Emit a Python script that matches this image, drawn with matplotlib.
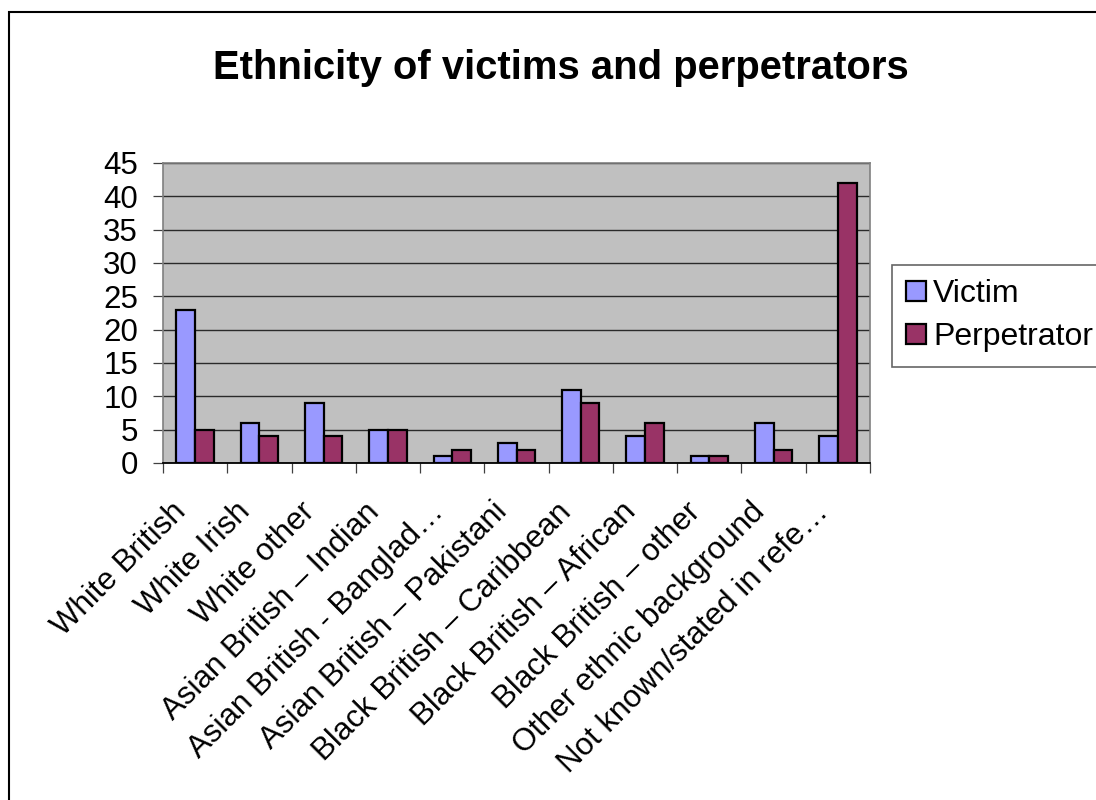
import matplotlib
matplotlib.use("Agg")
import matplotlib.pyplot as plt
import numpy as np
from matplotlib.patches import Rectangle
from matplotlib.transforms import ScaledTranslation

categories = [
    "White British", "White Irish", "White other", "Asian British \u2013 Indian",
    "Asian British - Banglad\u2026", "Asian British \u2013 Pakistani",
    "Black British \u2013 Caribbean", "Black British \u2013 African",
    "Black British \u2013 other", "Other ethnic background",
    "Not known/stated in refe\u2026",
]
victim = [23, 6, 9, 5, 1, 3, 11, 4, 1, 6, 4]
perpetrator = [5, 4, 4, 5, 2, 2, 9, 6, 1, 2, 42]
series_names = ["Victim", "Perpetrator"]
y_ticks = list(range(0, 50, 5))

plt.rcParams["font.family"] = ["Liberation Sans", "DejaVu Sans"]

fig = plt.figure(figsize=(10.96, 8.0), dpi=100)
ax = fig.add_axes([163 / 1096, 1 - 463 / 800, (870 - 163) / 1096, 300 / 800])
ax.set_facecolor("#C0C0C0")

x = np.arange(len(categories))
w = 0.29
ax.bar(x - w / 2, victim, width=w, color="#9999FF", edgecolor="black",
       linewidth=1.6, label=series_names[0], zorder=3)
ax.bar(x + w / 2, perpetrator, width=w, color="#993366", edgecolor="black",
       linewidth=1.6, label=series_names[1], zorder=3)

ax.set_xlim(-0.5, len(categories) - 0.5)
ax.set_ylim(0, 45)
ax.set_yticks(y_ticks)
ax.set_yticklabels([str(v) for v in y_ticks], fontsize=22.5)
ax.yaxis.grid(True, color="#2a2a2a", linewidth=1.0, zorder=1)
ax.set_axisbelow(True)
ax.tick_params(axis="y", length=7, width=0.9, color="#404040", pad=11)

# category boundaries carry the tick marks
ax.set_xticks([])
ax.set_xticks(np.arange(-0.5, len(categories)), minor=True)
ax.tick_params(axis="x", which="minor", length=7, width=0.9, color="#404040",
               direction="out")

for s in ["top", "right", "left"]:
    ax.spines[s].set_color("#808080")
    ax.spines[s].set_linewidth(1.2)
ax.spines["bottom"].set_color("black")
ax.spines["bottom"].set_linewidth(1.3)

# rotated category labels ending just under each group
off = ScaledTranslation(-16 / 100, -42 / 100, fig.dpi_scale_trans)
for xi, name in zip(x, categories):
    ax.text(xi, 0, name, transform=ax.get_xaxis_transform() + off,
            rotation=45, rotation_mode="anchor", ha="right",
            va="center_baseline", fontsize=22.5)

fig.text(561 / 1096, 1 - 79 / 800, "Ethnicity of victims and perpetrators",
         ha="center", va="baseline", fontsize=28.8, fontweight="bold")

leg = fig.legend(loc="upper left", bbox_to_anchor=(892 / 1096, 1 - 265 / 800),
                 fontsize=23, frameon=True, fancybox=False, borderaxespad=0,
                 handlelength=0.62, handleheight=0.62, handletextpad=0.22,
                 borderpad=0.45, labelspacing=0.4)
leg.get_frame().set_edgecolor("#404040")
leg.get_frame().set_linewidth(1.2)

# outer chart border
fig.patches.append(Rectangle((9 / 1096, -0.1), 1.2, 1.1 - 12 / 800,
                             transform=fig.transFigure, fill=False,
                             edgecolor="black", linewidth=1.5))

fig.savefig("out.png", dpi=100)
